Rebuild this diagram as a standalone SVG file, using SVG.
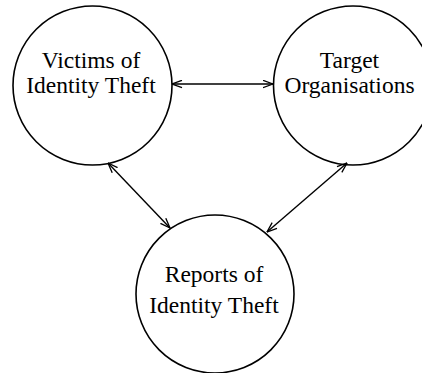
<svg xmlns="http://www.w3.org/2000/svg" width="422" height="373" viewBox="0 0 422 373">
  <style>
    .node circle { fill: #fff; stroke: #000; stroke-width: 1.6; }
    .node text { font-family: "Liberation Serif", "Times New Roman", serif; font-size: 23.5px; fill: #000; text-anchor: middle; }
    .edge { stroke: #000; stroke-width: 1.4; fill: none; marker-start: url(#arrow); marker-end: url(#arrow); }
  </style>
  <defs>
    <!-- open V arrowhead, reversed at the start so both ends point outward -->
    <marker id="arrow" viewBox="0 0 11 9" refX="10.5" refY="4.5" markerWidth="11" markerHeight="9" markerUnits="userSpaceOnUse" orient="auto-start-reverse">
      <path d="M0.5,0.8 L10.5,4.5 L0.5,8.2" fill="none" stroke="#000" stroke-width="1.3"/>
    </marker>
  </defs>

  <g id="victims" class="node">
    <circle cx="92.5" cy="85.5" r="79.5"/>
    <text x="91" y="68">Victims of</text>
    <text x="91" y="93">Identity Theft</text>
  </g>

  <g id="organisations" class="node">
    <circle cx="353" cy="85.5" r="79.5"/>
    <text x="349.5" y="68">Target</text>
    <text x="349.5" y="93">Organisations</text>
  </g>

  <g id="reports" class="node">
    <circle cx="215" cy="294" r="79"/>
    <text x="214" y="282">Reports of</text>
    <text x="214" y="313">Identity Theft</text>
  </g>

  <g id="connectors">
    <line class="edge" x1="172" y1="84" x2="273" y2="84"/>
    <line class="edge" x1="108" y1="163" x2="170" y2="228"/>
    <line class="edge" x1="347" y1="163" x2="267" y2="232"/>
  </g>
</svg>
